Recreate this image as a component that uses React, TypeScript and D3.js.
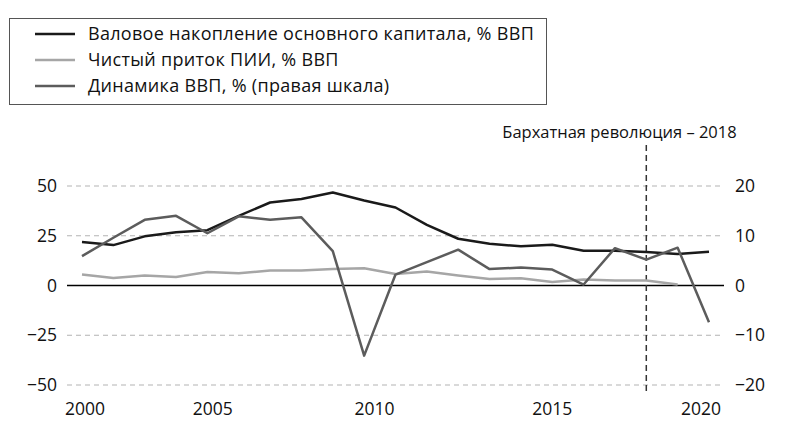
import * as d3 from "d3";

const years = d3.range(2000, 2021);
// Валовое накопление основного капитала, % ВВП
const gfcf = [21.8, 20.3, 24.7, 26.8, 27.8, 35.0, 41.7, 43.5, 46.7, 42.7, 39.2, 30.5, 23.5, 21.0, 19.7, 20.5, 17.5, 17.5, 16.8, 15.8, 17.0];
// Чистый приток ПИИ, % ВВП (no 2020 value)
const fdi = [5.5, 3.8, 5.0, 4.3, 6.8, 6.2, 7.5, 7.5, 8.3, 8.7, 5.8, 7.0, 5.0, 3.3, 3.7, 1.8, 3.0, 2.5, 2.5, 0.5];
// Динамика ВВП, % (right axis)
const gdp = [5.9, 9.6, 13.2, 14.0, 10.5, 13.9, 13.2, 13.7, 6.9, -14.1, 2.2, 4.7, 7.2, 3.3, 3.6, 3.2, 0.2, 7.5, 5.2, 7.6, -7.4];

const leftTicks = [-50, -25, 0, 25, 50];
const rightTicks = [-20, -10, 0, 10, 20];
const xTicks = [2000, 2005, 2010, 2015, 2020];
const eventYear = 2018;
const eventLabel = "Бархатная революция – 2018";

const legendItems = [
  { label: "Валовое накопление основного капитала, % ВВП", color: "#1a1a1a" },
  { label: "Чистый приток ПИИ, % ВВП", color: "#a6a6a6" },
  { label: "Динамика ВВП, % (правая шкала)", color: "#5c5c5c" },
];

const W = 785;
const H = 422;
const FONT = "'Open Sans', 'Noto Sans', sans-serif";

// the original axis labels sit a bit off their years
const labelNudge: Record<number, number> = { 2000: 3, 2005: -26, 2010: -21, 2015: 0, 2020: -8 };

export default function App() {
  const x = d3.scaleLinear().domain([2000, 2020]).range([82, 709]);
  const yL = d3.scaleLinear().domain([-50, 50]).range([385, 186]);
  const yR = d3.scaleLinear().domain([-20, 20]).range([385, 186]);

  const lineL = d3
    .line<number>()
    .x((_, i) => x(years[i]))
    .y((d) => yL(d));
  const lineR = d3
    .line<number>()
    .x((_, i) => x(years[i]))
    .y((d) => yR(d));

  const gridX0 = 67;
  const gridX1 = 724;
  const fmt = (t: number) => (t < 0 ? `−${Math.abs(t)}` : `${t}`);

  return (
    <svg
      width={W}
      height={H}
      style={{ position: "fixed", left: 0, top: 0, background: "#fff" }}
      fontFamily={FONT}
    >
      {/* legend */}
      <rect x={9.5} y={18.5} width={537} height={86} fill="#fff" stroke="#555" strokeWidth={1} />
      {legendItems.map((it, i) => (
        <g key={it.label} transform={`translate(0,${34 + i * 26})`}>
          <line x1={35} x2={75} y1={0} y2={0} stroke={it.color} strokeWidth={2.5} />
          <text x={88} y={0} dy="0.35em" fontSize={18} letterSpacing={0.3} fill="#111">
            {it.label}
          </text>
        </g>
      ))}

      {/* gridlines */}
      {leftTicks.map((t) =>
        t === 0 ? null : (
          <line
            key={t}
            x1={gridX0}
            x2={gridX1}
            y1={yL(t)}
            y2={yL(t)}
            stroke="#b3b3b3"
            strokeWidth={1}
            strokeDasharray="5,4"
          />
        )
      )}
      <line x1={gridX0} x2={gridX1} y1={yL(0)} y2={yL(0)} stroke="#000" strokeWidth={1.3} />

      {/* left axis labels */}
      {leftTicks.map((t) => (
        <text key={t} x={57} y={yL(t)} dy="0.35em" textAnchor="end" fontSize={17.5} fill="#111">
          {fmt(t)}
        </text>
      ))}
      {/* right axis labels */}
      {rightTicks.map((t) => (
        <text key={t} x={735} y={yR(t)} dy="0.35em" textAnchor="start" fontSize={17.5} fill="#111">
          {fmt(t)}
        </text>
      ))}
      {/* x labels */}
      {xTicks.map((t) => (
        <text key={t} x={x(t) + (labelNudge[t] || 0)} y={415} textAnchor="middle" fontSize={17.5} fill="#111">
          {t}
        </text>
      ))}

      {/* event marker */}
      <line
        x1={x(eventYear)}
        x2={x(eventYear)}
        y1={145}
        y2={392}
        stroke="#333"
        strokeWidth={1.5}
        strokeDasharray="6,4"
      />
      <text x={619.5} y={138} textAnchor="middle" fontSize={16.5} fill="#111">
        {eventLabel}
      </text>

      {/* series */}
      <path d={lineL(fdi) || ""} fill="none" stroke={legendItems[1].color} strokeWidth={2.5} strokeLinejoin="round" />
      <path d={lineL(gfcf) || ""} fill="none" stroke={legendItems[0].color} strokeWidth={2.5} strokeLinejoin="round" />
      <path d={lineR(gdp) || ""} fill="none" stroke={legendItems[2].color} strokeWidth={2.5} strokeLinejoin="round" />
    </svg>
  );
}
